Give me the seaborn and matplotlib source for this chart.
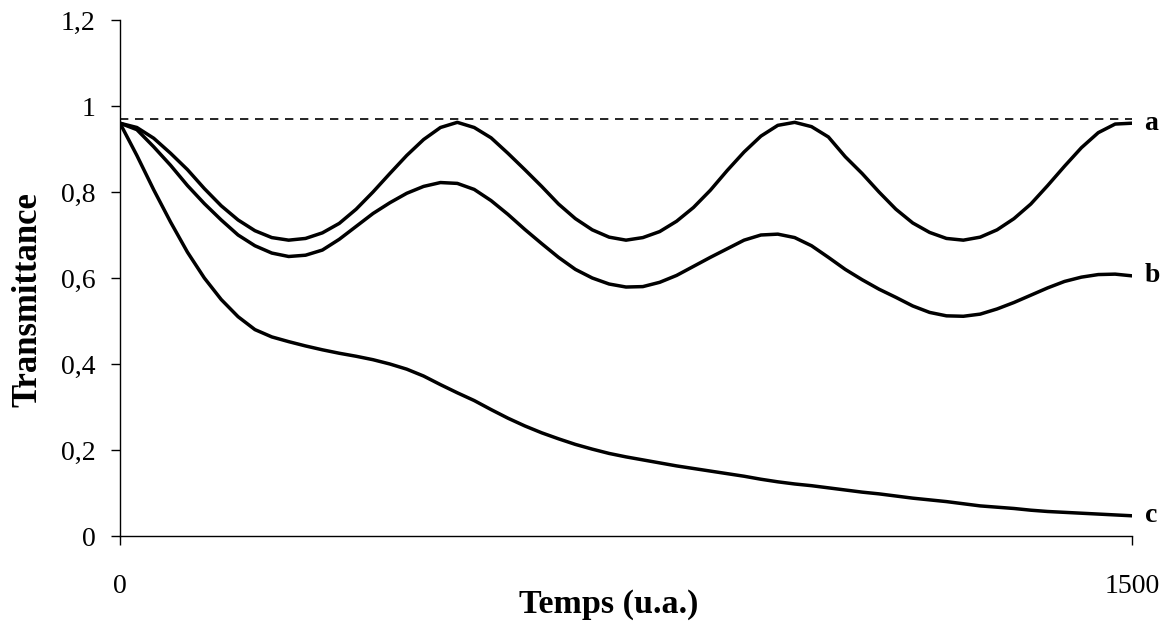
import numpy as np
import pandas as pd
import matplotlib
matplotlib.use("Agg")
import matplotlib.pyplot as plt
import seaborn as sns

# Time axis (u.a.), one reading every 25 units
temps = list(range(0, 1501, 25))

# Curve a - oscillating between ~0.69 and ~0.96
curve_a = [0.960, 0.950, 0.925, 0.890, 0.852, 0.808, 0.768, 0.735, 0.710, 0.694,
           0.688, 0.692, 0.705, 0.727, 0.760, 0.800, 0.843, 0.885, 0.922, 0.950,
           0.962, 0.950, 0.926, 0.890, 0.852, 0.813, 0.772, 0.738, 0.712, 0.695,
           0.688, 0.694, 0.708, 0.732, 0.764, 0.804, 0.850, 0.893, 0.930, 0.955,
           0.962, 0.952, 0.928, 0.882, 0.843, 0.800, 0.760, 0.728, 0.706, 0.692,
           0.688, 0.695, 0.712, 0.738, 0.772, 0.815, 0.860, 0.903, 0.938, 0.958,
           0.960]

# Curve b - damped oscillation
curve_b = [0.960, 0.945, 0.905, 0.862, 0.815, 0.773, 0.735, 0.700, 0.675, 0.658,
           0.650, 0.653, 0.665, 0.690, 0.720, 0.750, 0.775, 0.797, 0.813, 0.822,
           0.820, 0.806, 0.780, 0.748, 0.713, 0.680, 0.648, 0.620, 0.600, 0.586,
           0.579, 0.580, 0.590, 0.606, 0.627, 0.648, 0.668, 0.688, 0.700, 0.702,
           0.694, 0.675, 0.648, 0.620, 0.596, 0.574, 0.555, 0.535, 0.520, 0.512,
           0.511, 0.516, 0.528, 0.543, 0.560, 0.577, 0.592, 0.602, 0.608, 0.609,
           0.605]

# Curve c - monotonic decay
curve_c = [0.960, 0.885, 0.805, 0.730, 0.660, 0.600, 0.550, 0.510, 0.480, 0.463,
           0.452, 0.442, 0.433, 0.425, 0.418, 0.410, 0.400, 0.388, 0.372, 0.352,
           0.333, 0.315, 0.294, 0.274, 0.256, 0.240, 0.226, 0.213, 0.202, 0.192,
           0.184, 0.177, 0.170, 0.163, 0.157, 0.151, 0.145, 0.139, 0.132, 0.126,
           0.121, 0.117, 0.112, 0.107, 0.102, 0.098, 0.093, 0.088, 0.084, 0.080,
           0.075, 0.070, 0.067, 0.064, 0.060, 0.057, 0.055, 0.053, 0.051, 0.049,
           0.047]

curve_names = ["a", "b", "c"]
reference_level = 0.97

yticks = [0, 0.2, 0.4, 0.6, 0.8, 1.0, 1.2]
ytick_labels = ["0", "0,2", "0,4", "0,6", "0,8", "1", "1,2"]
xticks = [0, 1500]
xtick_labels = ["0", "1500"]

sns.set_theme(style="white")
plt.rcParams['font.family'] = ['Liberation Serif', 'DejaVu Serif']
plt.rcParams.update({'text.color': 'black', 'xtick.color': 'black',
                     'ytick.color': 'black', 'axes.labelcolor': 'black'})

df = pd.DataFrame({
    'temps': temps * 3,
    'transmittance': curve_a + curve_b + curve_c,
    'courbe': [n for n in curve_names for _ in temps],
})

fig = plt.figure(figsize=(11.68, 6.3), dpi=100)
ax = fig.add_axes([120 / 1168, 1 - 536 / 630, 1012 / 1168, 516 / 630])

sns.lineplot(data=df, x='temps', y='transmittance', hue='courbe',
             palette=['black'] * 3, linewidth=2.5, legend=False, ax=ax)

# horizontal dashed reference
ax.plot([temps[0], temps[-1]], [reference_level, reference_level],
        color='black', linestyle=(0, (5, 4)), linewidth=1.2)

# curve labels at right end
for name, vals in zip(curve_names, [curve_a, curve_b, curve_c]):
    ax.annotate(name, xy=(temps[-1], vals[-1]), xytext=(9, 0),
                textcoords='offset points', va='center', ha='left',
                fontsize=20, fontweight='bold', annotation_clip=False)

ax.set_xlim(0, 1500)
ax.set_ylim(0, 1.2)
ax.set_yticks(yticks)
ax.set_yticklabels(ytick_labels)
ax.set_xticks(xticks)
ax.set_xticklabels(xtick_labels)
ax.tick_params(axis='y', direction='out', length=6.5, width=1, color='black',
               labelcolor='black', labelsize=20, pad=11, left=True)
ax.tick_params(axis='x', direction='out', length=6.5, width=1, color='black',
               labelcolor='black', labelsize=20, pad=21, bottom=True)

for side in ['top', 'right']:
    ax.spines[side].set_visible(False)
for side in ['left', 'bottom']:
    ax.spines[side].set_color('black')
    ax.spines[side].set_linewidth(1.0)

ax.set_xlabel('')
ax.set_ylabel('')
fig.text(609 / 1168, 1 - 604 / 630, 'Temps (u.a.)', ha='center', va='center',
         fontsize=24.5, fontweight='bold')
fig.text(28 / 1168, 1 - 300 / 630, 'Transmittance', ha='center', va='center',
         rotation=90, fontsize=25, fontweight='bold')

fig.savefig('out.png', dpi=100, facecolor='white')
